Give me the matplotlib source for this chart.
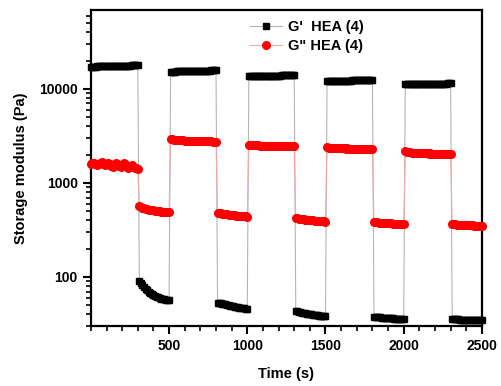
import numpy as np
import matplotlib; matplotlib.use("Agg")
import matplotlib.pyplot as plt
from matplotlib.ticker import LogLocator, FixedLocator, MultipleLocator, FuncFormatter

plt.rcParams["font.family"] = ["Liberation Sans", "DejaVu Sans"]
plt.rcParams["font.weight"] = "bold"

# rheometer sampled every 10 s, 0 .. 2500 s
sample_step = 10
time_s = list(range(0, 2500 + sample_step, sample_step))

# G' (Pa): high-strain / low-strain blocks
g_storage = [
    # 0-300
    17200, 17250, 17300, 17300, 17350, 17400, 17400, 17400, 17450, 17500, 17500, 17500, 17500, 17550, 17550, 17600,
    17600, 17600, 17600, 17650, 17650, 17650, 17700, 17700, 17700, 17700, 17750, 17750, 17750, 17800, 17800,
    # 310-500
    90, 86, 82, 78, 75, 72, 70, 68, 66, 64.5, 63, 62, 61, 60, 59, 58.5, 58, 57.5, 57, 56.5,
    # 510-800
    15200, 15250, 15300, 15300, 15350, 15400, 15400, 15400, 15450, 15450, 15500, 15500, 15500, 15500, 15550,
    15550, 15550, 15600, 15600, 15600, 15600, 15600, 15650, 15650, 15650, 15650, 15700, 15700, 15700, 15700,
    # 810-1000
    53.5, 53, 52.5, 52, 51.5, 51, 50.5, 50, 49.6, 49.2, 48.8, 48.4, 48, 47.6, 47.3, 47, 46.7, 46.4, 46.1, 45.8,
    # 1010-1300
    13600, 13600, 13650, 13650, 13700, 13700, 13700, 13700, 13750, 13750, 13750, 13800, 13800, 13800, 13800,
    13800, 13850, 13850, 13850, 13850, 13850, 13900, 13900, 13900, 13900, 13900, 13900, 13950, 13950, 13950,
    # 1310-1500
    43.5, 43, 42.6, 42.2, 41.8, 41.5, 41.2, 40.9, 40.6, 40.3, 40, 39.7, 39.5, 39.3, 39.1, 38.9, 38.7, 38.5, 38.4, 38.2,
    # 1510-1800
    12100, 12100, 12150, 12150, 12150, 12200, 12200, 12200, 12200, 12200, 12250, 12250, 12250, 12250, 12250,
    12250, 12300, 12300, 12300, 12300, 12300, 12300, 12300, 12300, 12350, 12350, 12350, 12350, 12350, 12350,
    # 1810-2000
    37.8, 37.6, 37.5, 37.3, 37.2, 37, 36.9, 36.8, 36.6, 36.5, 36.4, 36.3, 36.2, 36.1, 36, 35.9, 35.8, 35.7, 35.6, 35.5,
    # 2010-2300
    11200, 11200, 11250, 11250, 11250, 11300, 11300, 11300, 11300, 11300, 11300, 11350, 11350, 11350, 11350,
    11350, 11350, 11350, 11400, 11400, 11400, 11400, 11400, 11400, 11400, 11400, 11400, 11450, 11450, 11450,
    # 2310-2500
    35.6, 35.5, 35.5, 35.4, 35.4, 35.3, 35.3, 35.2, 35.2, 35.1, 35.1, 35, 35, 34.9, 34.9, 34.8, 34.8, 34.8, 34.7, 34.7,
]

# G'' (Pa)
g_loss = [
    1580, 1620, 1650, 1600, 1570, 1610, 1640, 1680, 1620, 1560, 1600, 1650, 1590, 1520, 1480, 1560,
    1640, 1580, 1500, 1470, 1550, 1620, 1580, 1500, 1460, 1520, 1560, 1480, 1440, 1430, 1420,
    570, 555, 545, 538, 532, 527, 522, 518, 514, 510, 507, 504, 501, 498, 496, 494, 492, 490, 488, 486,
    2950, 2920, 2890, 2870, 2860, 2850, 2840, 2830, 2830, 2820, 2820, 2810, 2810, 2800, 2800,
    2800, 2790, 2790, 2780, 2790, 2780, 2770, 2770, 2780, 2760, 2760, 2770, 2750, 2750, 2740,
    485, 480, 476, 472, 469, 466, 463, 460, 458, 456, 454, 452, 450, 448, 446, 444, 443, 441, 440, 438,
    2560, 2540, 2530, 2520, 2520, 2510, 2510, 2500, 2500, 2500, 2490, 2500, 2490, 2480, 2490,
    2480, 2480, 2470, 2480, 2470, 2470, 2460, 2470, 2460, 2460, 2460, 2450, 2460, 2450, 2450,
    425, 421, 418, 415, 412, 410, 408, 406, 404, 402, 400, 399, 397, 396, 394, 393, 392, 391, 390, 389,
    2400, 2380, 2370, 2360, 2350, 2350, 2340, 2340, 2340, 2330, 2330, 2330, 2320, 2330, 2320,
    2320, 2310, 2320, 2310, 2310, 2300, 2310, 2300, 2300, 2300, 2290, 2300, 2290, 2290, 2290,
    385, 383, 381, 379, 378, 377, 376, 375, 374, 373, 372, 371, 370, 369, 368, 367, 367, 366, 365, 364,
    2180, 2150, 2130, 2110, 2100, 2090, 2090, 2080, 2080, 2070, 2070, 2070, 2060, 2060, 2060,
    2050, 2060, 2050, 2050, 2050, 2040, 2050, 2040, 2040, 2040, 2030, 2040, 2030, 2030, 2030,
    368, 365, 363, 361, 360, 359, 358, 357, 356, 355, 355, 354, 353, 353, 352, 352, 351, 351, 350, 350,
]

labels = ["G'  HEA (4)", 'G" HEA (4)']

fig = plt.figure(figsize=(5.02, 3.86), dpi=100)
ax = fig.add_axes([0.181, 0.155, 0.779, 0.819])

ax.plot(time_s, g_storage, "-s", color="#b4b4b4", lw=0.8, mfc="black", mec="black",
        ms=4.5, label=labels[0], clip_on=False, zorder=3)
ax.plot(time_s, g_loss, "-o", color="#f4a8a8", lw=0.8, mfc="#ff0000", mec="#ff0000",
        ms=5.5, label=labels[1], clip_on=False, zorder=3)

ax.set_yscale("log")
ax.set_xlim(0, 2500)
ax.set_ylim(30, 69000)
ax.xaxis.set_major_locator(FixedLocator([500, 1000, 1500, 2000, 2500]))
ax.xaxis.set_minor_locator(MultipleLocator(100))
ax.yaxis.set_major_locator(FixedLocator([100, 1000, 10000]))
ax.yaxis.set_minor_locator(LogLocator(base=10, subs=np.arange(2, 10)))
ax.yaxis.set_major_formatter(FuncFormatter(lambda v, p: f"{v:.0f}"))
ax.yaxis.set_minor_formatter(FuncFormatter(lambda v, p: ""))

ax.tick_params(which="major", direction="out", length=6, width=1.5, labelsize=10)
ax.tick_params(which="minor", direction="out", length=3.5, width=1.2)
for s in ax.spines.values():
    s.set_linewidth(1.6)

ax.set_xlabel("Time (s)", fontsize=10.5, fontweight="bold", labelpad=10)
ax.set_ylabel("Storage modulus (Pa)", fontsize=10.5, fontweight="bold", labelpad=8)

ax.legend(loc="upper left", bbox_to_anchor=(0.38, 1.0), frameon=False, fontsize=10.5,
          handlelength=2.2, handletextpad=0.4, labelspacing=0.3, borderaxespad=0.3)

fig.savefig("out.png", dpi=100)
